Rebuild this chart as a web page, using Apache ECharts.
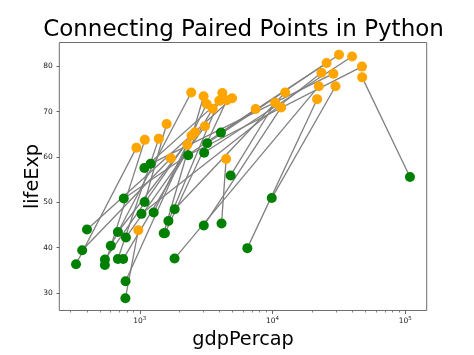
<!DOCTYPE html>
<html>
<head>
<meta charset="utf-8">
<script src="https://cdn.jsdelivr.net/npm/echarts@6/dist/echarts.min.js"></script>
<style>html,body{margin:0;padding:0;background:#fff}#c{width:474px;height:355px}</style>
</head>
<body>
<div id="c"></div>
<script>
const countries = ["Afghanistan","Bahrain","Bangladesh","Cambodia","China","Hong Kong","India","Indonesia","Iran","Iraq","Israel","Japan","Jordan","Korea, Dem. Rep.","Korea, Rep.","Kuwait","Lebanon","Malaysia","Mongolia","Myanmar","Nepal","Oman","Pakistan","Philippines","Saudi Arabia","Singapore","Sri Lanka","Syria","Taiwan","Thailand","Vietnam","West Bank and Gaza","Yemen, Rep."];
const gdp1952 = [779.4,9867.1,684.2,368.5,400.4,3054.4,546.6,749.7,3035.3,4129.8,4086.5,3217.0,1546.9,1088.3,1030.6,108382.4,4834.8,1831.1,786.6,331.0,545.9,1828.2,684.6,1272.9,6459.6,2315.1,1083.5,1643.5,1206.9,757.8,605.1,1515.6,781.7];
const life1952 = [28.80,50.94,37.48,39.42,44.00,60.96,37.37,37.47,44.87,45.32,65.39,63.03,43.16,50.06,47.45,55.57,55.93,48.46,42.24,36.32,36.16,37.58,43.44,47.75,39.88,60.40,57.59,45.88,58.50,50.85,40.41,43.16,32.55];
const gdp2007 = [974.6,29796.0,1391.3,1713.8,4959.1,39725.0,2452.2,3540.7,11605.7,4471.1,25523.3,31656.1,4519.5,1593.1,23348.1,47307.0,10461.1,12451.7,3095.8,944.0,1091.4,22316.2,2605.9,3190.5,21654.8,47143.2,3970.1,4184.5,28718.3,7458.4,2441.6,3025.3,2280.8];
const life2007 = [43.83,75.64,64.06,59.72,72.96,82.21,64.70,70.65,70.96,59.55,80.75,82.60,72.54,67.30,78.62,77.59,71.99,74.24,66.80,62.07,63.79,75.64,65.48,71.69,72.78,79.97,72.40,74.14,78.40,70.62,74.25,73.42,62.70];
const xMajorTicks = [1000, 10000, 100000];
const xMinorTicks = [300,400,500,600,700,800,900,2000,3000,4000,5000,6000,7000,8000,9000,20000,30000,40000,50000,60000,70000,80000,90000];
const yTicks = [30, 40, 50, 60, 70, 80];

const FONT = 'DejaVu Sans';
const xMin = Math.pow(10, 2.394), xMax = Math.pow(10, 5.161);
const yMin = 26.11, yMax = 85.29;
const tickColor = '#666';

const series = [];
for (let i = 0; i < countries.length; i++) {
  series.push({
    type: 'line', silent: true, symbol: 'none', animation: false, z: 2,
    lineStyle: {color: '#808080', width: 1.3},
    data: [[gdp1952[i], life1952[i]], [gdp2007[i], life2007[i]]]
  });
}
series.push({
  type: 'scatter', name: '1952', symbolSize: 10, z: 3, animation: false,
  itemStyle: {color: '#008000', opacity: 1},
  data: gdp1952.map((g, i) => [g, life1952[i]])
});
series.push({
  type: 'scatter', name: '2007', symbolSize: 10, z: 4, animation: false,
  itemStyle: {color: '#FFA500', opacity: 1},
  data: gdp2007.map((g, i) => [g, life2007[i]])
});

const chart = echarts.init(document.getElementById('c'), null, {renderer: 'canvas'});
chart.setOption({
  animation: false,
  title: {
    text: 'Connecting Paired Points in Python',
    left: 238.5, top: 14, textAlign: 'center',
    textStyle: {fontFamily: FONT, fontSize: 23, fontWeight: 'normal', color: '#000'}
  },
  grid: {left: 59.3, right: 47.3, top: 42.5, bottom: 44.5, show: true, borderColor: '#6e6e6e', borderWidth: 1, backgroundColor: 'transparent'},
  xAxis: [{
    type: 'log', logBase: 10, min: xMin, max: xMax, position: 'bottom',
    name: 'gdpPercap', nameLocation: 'middle', nameGap: 18,
    nameTextStyle: {fontFamily: FONT, fontSize: 19.3, color: '#000'},
    axisLine: {show: false},
    splitLine: {show: false},
    axisTick: {show: true, length: 3.5, lineStyle: {color: tickColor, width: 1}, customValues: xMajorTicks},
    axisLabel: {
      show: true, margin: 5, customValues: xMajorTicks, color: '#222',
      fontFamily: FONT,
      formatter: function (v) { return '{b|10}{s|' + Math.round(Math.log10(v)) + '}'; },
      rich: {
        b: {fontFamily: FONT, fontSize: 7.5, color: '#222', verticalAlign: 'bottom'},
        s: {fontFamily: FONT, fontSize: 5.5, color: '#222', verticalAlign: 'bottom', padding: [0, 0, 4, 0]}
      }
    }
  }, {
    type: 'log', logBase: 10, min: xMin, max: xMax, position: 'bottom', gridIndex: 0,
    axisLine: {show: false}, splitLine: {show: false}, axisLabel: {show: false},
    axisTick: {show: true, length: 2, lineStyle: {color: tickColor, width: 0.8}, customValues: xMinorTicks}
  }],
  yAxis: {
    type: 'value', min: yMin, max: yMax,
    name: 'lifeExp', nameLocation: 'middle', nameGap: 17, nameRotate: 90, nameMoveOverlap: false,
    nameTextStyle: {fontFamily: FONT, fontSize: 19.3, color: '#000'},
    axisLine: {show: false}, splitLine: {show: false},
    axisTick: {show: true, length: 2.8, lineStyle: {color: tickColor, width: 1}, customValues: yTicks},
    axisLabel: {show: true, margin: 6.5, customValues: yTicks, fontFamily: FONT, fontSize: 7.5, color: '#222'}
  },
  series: series
});
</script>
</body>
</html>
